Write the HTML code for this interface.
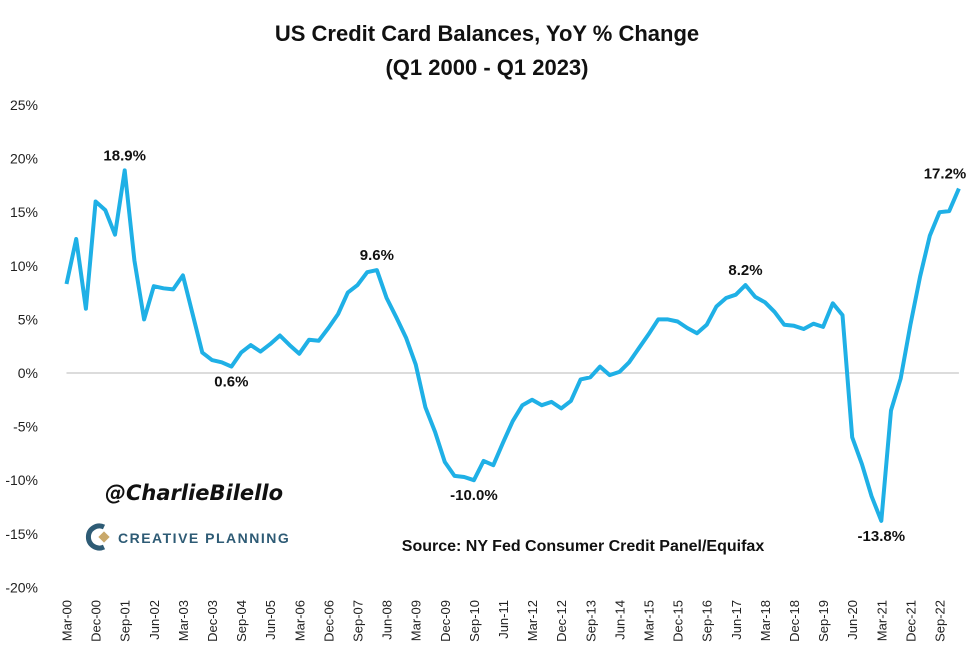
<!DOCTYPE html>
<html><head><meta charset="utf-8"><style>
body{margin:0;background:#fff;}
svg{display:block;font-family:"Liberation Sans",sans-serif;}
</style></head><body>
<svg width="975" height="660" viewBox="0 0 975 660">
<text x="487" y="41" text-anchor="middle" font-size="22" font-weight="bold" fill="#111">US Credit Card Balances, YoY % Change</text>
<text x="487" y="75" text-anchor="middle" font-size="22" font-weight="bold" fill="#111">(Q1 2000 - Q1 2023)</text>
<g id="yaxis"></g>
<g id="xaxis"></g>
<line id="zero" stroke="#d0d0d0" stroke-width="1.5"/>
<path id="line" fill="none" stroke="#1fb0e6" stroke-width="4" stroke-linejoin="round"/>
<g id="ann"></g>
<text x="105" y="500" font-size="21" font-style="italic" font-weight="bold" fill="#111" font-family="'DejaVu Sans',sans-serif">@CharlieBilello</text>
<g>
<path d="M104 527 a11 11 0 1 0 0 20" fill="none" stroke="#2e5b75" stroke-width="5"/>
<rect x="100" y="533" width="8" height="8" fill="#c9a86a" transform="rotate(45 104 537)"/>
<text x="118" y="543" font-size="14" font-weight="bold" fill="#2e5b75" letter-spacing="1.5">CREATIVE PLANNING</text>
</g>
<text x="583" y="551" text-anchor="middle" font-size="16" font-weight="bold" fill="#111">Source: NY Fed Consumer Credit Panel/Equifax</text>
</svg>
<script>
const values=[8.3,12.5,6.0,16.0,15.2,12.9,18.9,10.5,5.0,8.1,7.9,7.8,9.1,5.5,1.9,1.2,1.0,0.6,1.9,2.6,2.0,2.7,3.5,2.6,1.8,3.1,3.0,4.2,5.5,7.5,8.2,9.4,9.6,7.0,5.2,3.3,0.8,-3.2,-5.5,-8.3,-9.6,-9.7,-10.0,-8.2,-8.6,-6.5,-4.5,-3.0,-2.5,-3.0,-2.7,-3.3,-2.6,-0.6,-0.4,0.6,-0.2,0.1,1.0,2.3,3.6,5.0,5.0,4.8,4.2,3.7,4.5,6.2,7.0,7.3,8.2,7.1,6.6,5.7,4.5,4.4,4.1,4.6,4.3,6.5,5.4,-6.0,-8.5,-11.5,-13.8,-3.5,-0.5,4.5,9.0,12.8,15.0,15.1,17.2];
const xLabels=["Mar-00","Dec-00","Sep-01","Jun-02","Mar-03","Dec-03","Sep-04","Jun-05","Mar-06","Dec-06","Sep-07","Jun-08","Mar-09","Dec-09","Sep-10","Jun-11","Mar-12","Dec-12","Sep-13","Jun-14","Mar-15","Dec-15","Sep-16","Jun-17","Mar-18","Dec-18","Sep-19","Jun-20","Mar-21","Dec-21","Sep-22"];
const yTicks=[25,20,15,10,5,0,-5,-10,-15,-20];
const annIdx=[6,17,32,42,70,84,92];
const annPos=["above","below","above","below","above","below","above"];
const NS="http://www.w3.org/2000/svg";
const X=i=>66.5+i*9.7;
const Y=v=>373-v*10.72;
function mk(t,a,p){const e=document.createElementNS(NS,t);for(const k in a)e.setAttribute(k,a[k]);p.appendChild(e);return e;}
const ya=document.getElementById('yaxis');
yTicks.forEach(v=>{const t=mk('text',{x:38,y:Y(v)+5,'text-anchor':'end','font-size':14,fill:'#222'},ya);


t.textContent=v+'%';});
const xa=document.getElementById('xaxis');
xLabels.forEach((l,k)=>{const x=X(k*3)+5;const t=mk('text',{x:x,y:600,'text-anchor':'end','font-size':13,fill:'#222',transform:`rotate(-90 ${x} 600)`},xa);


t.textContent=l;});
const z=document.getElementById('zero');
z.setAttribute('x1',X(0));z.setAttribute('x2',X(values.length-1));z.setAttribute('y1',Y(0));z.setAttribute('y2',Y(0));
document.getElementById('line').setAttribute('d',values.map((v,i)=>(i?'L':'M')+X(i).toFixed(1)+' '+Y(v).toFixed(1)).join(''));
const an=document.getElementById('ann');
annIdx.forEach((i,k)=>{const v=values[i];const up=annPos[k]==='above';
const t=mk('text',{x:Math.min(X(i),945),y:up?Y(v)-10:Y(v)+20,'text-anchor':'middle','font-size':15,'font-weight':'bold',fill:'#111'},an);


t.textContent=v.toFixed(1)+'%';});
</script>
</body></html>
